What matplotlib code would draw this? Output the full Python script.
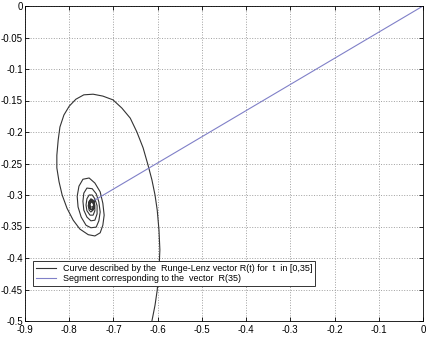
import matplotlib
matplotlib.use("Agg")
import matplotlib.pyplot as plt

plt.rcParams['font.family'] = ['Liberation Sans', 'DejaVu Sans']

# Curve (x, y of the Runge-Lenz vector R(t))
curve_x = [-0.618, -0.613, -0.606, -0.601, -0.597, -0.595, -0.597, -0.601, -0.606,
           -0.613, -0.622, -0.633, -0.647, -0.662, -0.681, -0.701, -0.724, -0.746,
           -0.767, -0.785, -0.800, -0.812, -0.821, -0.825, -0.828, -0.828, -0.823,
           -0.816, -0.805, -0.791, -0.776, -0.757, -0.742, -0.730, -0.724,
           -0.721, -0.724, -0.730, -0.742, -0.755, -0.769, -0.778, -0.782, -0.780,
           -0.773, -0.762, -0.751, -0.739, -0.733,
           -0.730, -0.733, -0.739, -0.748, -0.760, -0.767, -0.769, -0.767, -0.760,
           -0.751, -0.742, -0.737,
           -0.737, -0.742, -0.748, -0.755, -0.760, -0.762, -0.760, -0.753, -0.746,
           -0.742,
           -0.742, -0.746, -0.751, -0.755, -0.757, -0.755, -0.751, -0.746, -0.744,
           -0.744, -0.746, -0.751, -0.755, -0.755, -0.753, -0.748, -0.744,
           -0.745, -0.748, -0.752, -0.754, -0.753, -0.750, -0.746, -0.745,
           -0.746, -0.748, -0.753, -0.753, -0.751, -0.746, -0.742]
curve_y = [-0.530, -0.500, -0.475, -0.451, -0.419, -0.387, -0.356, -0.324, -0.300,
           -0.276, -0.252, -0.225, -0.200, -0.178, -0.162, -0.149, -0.143, -0.140,
           -0.141, -0.148, -0.159, -0.173, -0.192, -0.213, -0.237, -0.257, -0.279,
           -0.300, -0.321, -0.340, -0.354, -0.363, -0.365, -0.360, -0.348,
           -0.332, -0.313, -0.295, -0.281, -0.273, -0.275, -0.286, -0.302, -0.319,
           -0.335, -0.348, -0.352, -0.351, -0.341,
           -0.327, -0.311, -0.298, -0.290, -0.289, -0.297, -0.310, -0.324, -0.335,
           -0.341, -0.340, -0.330,
           -0.317, -0.306, -0.300, -0.300, -0.306, -0.316, -0.325, -0.332, -0.332,
           -0.325,
           -0.316, -0.308, -0.306, -0.310, -0.317, -0.324, -0.327, -0.324, -0.317,
           -0.316, -0.310, -0.308, -0.311, -0.317, -0.322, -0.324, -0.321,
           -0.314, -0.310, -0.310, -0.315, -0.320, -0.323, -0.321, -0.316,
           -0.313, -0.311, -0.313, -0.317, -0.319, -0.319, -0.308]

# Segment from the origin to R(35)
seg_x = [0.0, -0.742]
seg_y = [0.0, -0.308]

xticks = [-0.9, -0.8, -0.7, -0.6, -0.5, -0.4, -0.3, -0.2, -0.1, 0]
yticks = [-0.5, -0.45, -0.4, -0.35, -0.3, -0.25, -0.2, -0.15, -0.1, -0.05, 0]
xlabels = ['-0.9', '-0.8', '-0.7', '-0.6', '-0.5', '-0.4', '-0.3', '-0.2', '-0.1', '0']
ylabels = ['-0.5', '-0.45', '-0.4', '-0.35', '-0.3', '-0.25', '-0.2', '-0.15', '-0.1', '-0.05', '0']

fig = plt.figure(figsize=(4.27, 3.37), dpi=100)
ax = fig.add_axes([25 / 427, 1 - 321 / 337, 398 / 427, 315 / 337])

ax.plot(curve_x, curve_y, color='#333333', lw=0.8,
        label='Curve described by the  Runge-Lenz vector R(t) for  t  in [0,35]')
ax.plot(seg_x, seg_y, color='#8080c8', lw=0.8,
        label='Segment corresponding to the  vector  R(35)')

ax.set_xlim(-0.9, 0)
ax.set_ylim(-0.5, 0)
ax.set_xticks(xticks)
ax.set_xticklabels(xlabels)
ax.set_yticks(yticks)
ax.set_yticklabels(ylabels)
ax.tick_params(direction='in', top=True, right=True, labelsize=7, length=3, width=0.6)
ax.tick_params(axis='y', pad=1.5)
ax.tick_params(axis='x', pad=3)
ax.grid(True, color='#a0a0a0', linestyle=':', lw=0.7)
for s in ax.spines.values():
  s.set_linewidth(0.6)

leg = ax.legend(loc='lower left', bbox_to_anchor=(0.02, 0.111), borderaxespad=0,
                fancybox=False, fontsize=6.5, handlelength=2.2, borderpad=0.3,
                labelspacing=0.15, framealpha=1)
leg.get_frame().set_edgecolor('#333333')
leg.get_frame().set_linewidth(0.7)

fig.savefig('out.png', dpi=100)
